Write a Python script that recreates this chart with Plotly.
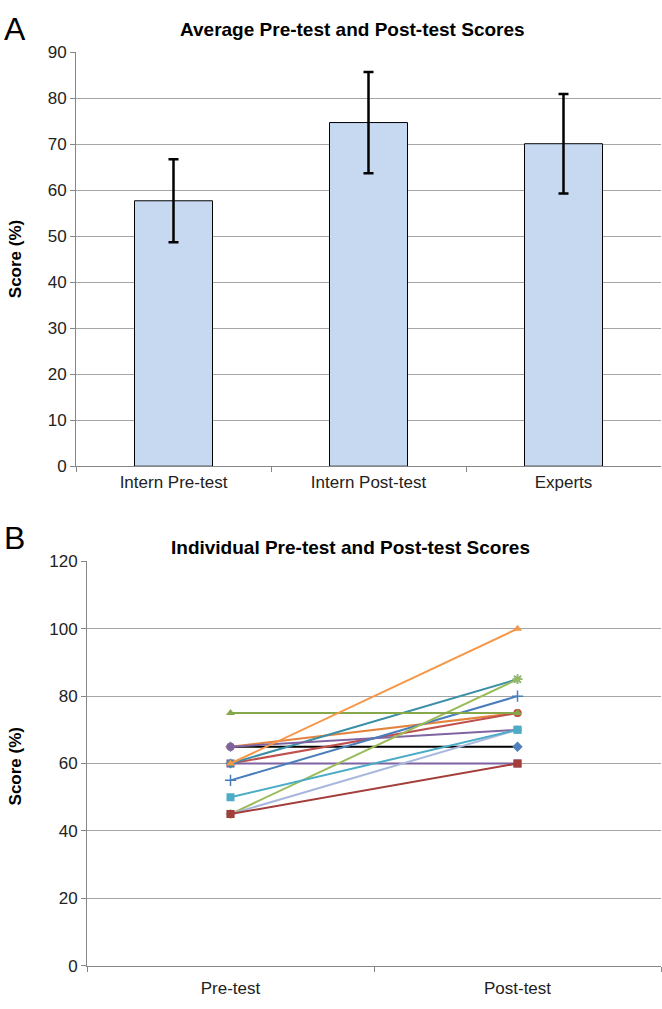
import plotly.graph_objects as go

W, H = 662, 1009

# ---- Panel A data ----
groups = ["Intern Pre-test", "Intern Post-test", "Experts"]
mean_scores = [57.7, 74.7, 70.1]
sd_scores = [9.0, 11.0, 10.8]

# ---- Panel B data ----
phases = ["Pre-test", "Post-test"]
pre_scores =  [65, 65, 60, 60, 60, 65, 55, 45, 45, 50, 45, 75, 60]
post_scores = [65, 75, 75, 60, 85, 70, 80, 85, 70, 70, 60, 75, 100]
line_colors = ["#000000", "#E3833E", "#C0504D", "#7F62A1", "#3A8FA6", "#8064A2",
               "#4A7EBB", "#9BBB59", "#A8B8DC", "#4BACC6", "#A33E3B", "#86A84A", "#F79646"]
marker_colors = ["#4F81BD", "#E3833E", "#C0504D", "#7F62A1", "#3A8FA6", "#8064A2",
                 "#4A7EBB", "#9BBB59", "#A8B8DC", "#4BACC6", "#A33E3B", "#86A84A", "#F79646"]
symbols = ["diamond", "circle", "circle", "square", "asterisk-open", "circle",
           "cross-thin-open", "asterisk-open", "square", "square", "square",
           "triangle-up", "triangle-up"]

def px(x):
    return x / W

def py(y):
    return 1 - y / H

fig = go.Figure()

fig.add_trace(go.Bar(
    x=groups, y=mean_scores, width=0.4,
    marker=dict(color="#C6D9F1", line=dict(color="#000000", width=1)),
    error_y=dict(type="data", array=sd_scores, visible=True, color="#000000",
                 thickness=2.5, width=5),
    xaxis="x", yaxis="y", showlegend=False,
))

for pre, post, lc, mc, sym in zip(pre_scores, post_scores, line_colors, marker_colors, symbols):
    open_sym = sym.endswith("open")
    fig.add_trace(go.Scatter(
        x=phases, y=[pre, post], mode="lines+markers",
        line=dict(color=lc, width=2),
        marker=dict(symbol=sym, size=8, color=mc,
                    line=dict(color=mc, width=1.5 if open_sym else 0)),
        xaxis="x2", yaxis="y2", showlegend=False,
    ))

font = "Liberation Sans, Arial, sans-serif"
axis_gray = "#868686"
grid_gray = "#A6A6A6"

common_y = dict(showgrid=True, gridcolor=grid_gray, gridwidth=1, showline=True,
                linecolor=axis_gray, linewidth=1, ticks="outside", ticklen=5,
                tickcolor=axis_gray, tickfont=dict(family=font, size=17, color="#222"),
                zeroline=False)
common_x = dict(showline=True, linecolor=axis_gray, linewidth=1, ticks="outside",
                ticklen=5, tickcolor=axis_gray, tickson="boundaries",
                tickfont=dict(family=font, size=17, color="#222"), showgrid=False)

fig.update_layout(
    width=W, height=H, margin=dict(l=0, r=0, t=0, b=0),
    paper_bgcolor="white", plot_bgcolor="white",
    xaxis=dict(domain=[px(76), px(661)], anchor="y", range=[-0.5, 2.5], **common_x),
    yaxis=dict(domain=[py(466), py(44)], anchor="x", range=[0, 90], dtick=10, **common_y),
    xaxis2=dict(domain=[px(87), px(661)], anchor="y2", range=[-0.5, 1.5],
                ticklabelstandoff=7, **common_x),
    yaxis2=dict(domain=[py(975), py(563)], anchor="x2", range=[0, 120], dtick=20, **common_y),
    annotations=[
        dict(text="A", x=px(2), y=py(20), xref="paper", yref="paper", showarrow=False,
             xanchor="left", yanchor="middle", font=dict(family=font, size=32, color="#000")),
        dict(text="B", x=px(2), y=py(539), xref="paper", yref="paper", showarrow=False,
             xanchor="left", yanchor="middle", font=dict(family=font, size=32, color="#000")),
        dict(text="<b>Average Pre-test and Post-test Scores</b>", x=px(353), y=py(21),
             xref="paper", yref="paper", showarrow=False, xanchor="center", yanchor="middle",
             font=dict(family=font, size=19, color="#000")),
        dict(text="<b>Individual Pre-test and Post-test Scores</b>", x=px(350), y=py(549),
             xref="paper", yref="paper", showarrow=False, xanchor="center", yanchor="middle",
             font=dict(family=font, size=19, color="#000")),
        dict(text="<b>Score (%)</b>", x=px(15), y=py(255), xref="paper", yref="paper",
             showarrow=False, textangle=-90, xanchor="center", yanchor="middle",
             font=dict(family=font, size=17, color="#000")),
        dict(text="<b>Score (%)</b>", x=px(15), y=py(772), xref="paper", yref="paper",
             showarrow=False, textangle=-90, xanchor="center", yanchor="middle",
             font=dict(family=font, size=17, color="#000")),
    ],
)

fig.write_html("out.html", config={"displayModeBar": False},
               post_script="document.body.style.margin='0';document.body.style.overflow='hidden';")
